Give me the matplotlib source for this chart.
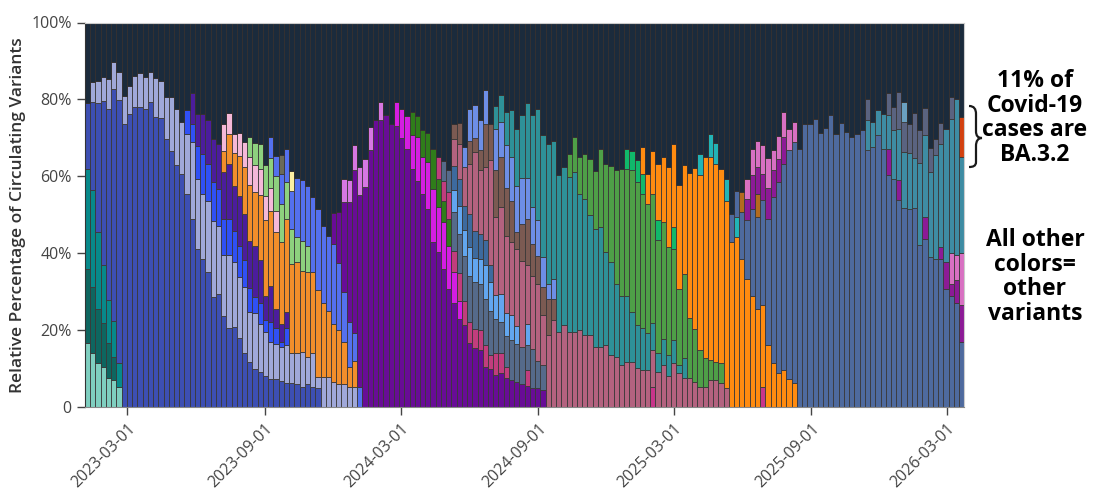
import matplotlib
matplotlib.use("Agg")
import matplotlib.pyplot as plt
import matplotlib.dates as mdates
from matplotlib.path import Path
from matplotlib.patches import PathPatch
import numpy as np
import pandas as pd

plt.rcParams["font.family"] = ["Open Sans", "DejaVu Sans"]

# ── weeks (bar centres, week ending Saturday) ──
N_WEEKS = 168
weeks = pd.date_range("2023-01-07", periods=N_WEEKS, freq="7D")
tick_dates = ["2023-03-01", "2023-09-01", "2024-03-01", "2024-09-01",
              "2025-03-01", "2025-09-01", "2026-03-01"]

# ── variant shares (% of sequences); each run = (first week index, values) ──
aqua = (0, [16.6, 14.1, 11.4, 10.3, 7.6, 7.0, 5.3])
dark_teal = (0, [19.4, 17.2, 14.2, 11.6, 9.1, 5.9])
teal = (0, [26.0, 25.1, 19.8, 15.0, 11.1, 9.5, 6.1])
royal_blue = (0, [17.0, 23.0, 33.6, 42.6, 49.7, 60.4, 68.4, 73.6, 76.1, 77.9,
                  77.9, 77.4, 79.4, 75.5, 75.2, 69.7, 66.6, 62.9, 60.5, 55.5,
                  49.0, 41.0, 38.4, 35.0, 28.7, 29.5, 23.7, 20.5, 20.9, 17.9,
                  14.0, 11.8, 10.0, 9.2, 8.1, 7.2, 7.2, 6.8, 6.2, 6.2,
                  5.9, 5.3, 5.9, 5.3, 5.0])
lavender = (1, [5.2, 5.7, 6.2, 7.7, 7.0, 7.4, 7.2, 7.5, 8.3, 9.0,
                8.3, 7.8, 10.1, 9.6, 10.8, 14.0, 14.5, 13.7, 15.4, 20.0,
                18.3, 17.1, 18.6, 19.7, 17.5, 15.8, 19.0, 16.7, 16.0, 17.3,
                12.8, 14.4, 12.4, 11.5, 9.8, 9.3, 8.9, 9.9, 7.8, 8.1,
                9.1, 7.2, 8.7, 2.7, 7.7, 7.7, 6.5, 6.0, 6.0, 5.3, 5.3])
bright_blue = (19, [6.3, 4.6, 8.6, 10.4, 9.7, 10.0, 9.6, 9.4, 9.4, 8.2,
                    8.1, 6.9, 6.3, 4.1, 5.5, 3.0, 5.1, 4.0, 1.3, 4.4])
indigo = (20, [8.1, 8.2, 10.2, 11.3, 11.4, 11.9, 12.3, 14.4, 11.7, 12.9,
               12.1, 12.2, 13.3, 11.1, 6.3, 9.3, 5.0, 4.6, 4.3])
orange = (26, [5.4, 7.8, 8.6, 10.4, 12.2, 14.6, 14.0, 16.9, 19.7, 19.7,
               19.9, 21.4, 24.1, 23.3, 23.6, 21.0, 22.1, 21.0, 22.8, 19.3,
               17.3, 15.0, 14.0, 11.0, 5.2, 6.7])
light_pink = (26, [7.1, 5.4, 5.0, 6.0, 6.3, 7.4, 7.1, 6.9, 6.3, 5.8, 5.6])
light_green = (31, [5.0, 5.8, 6.3, 8.0, 7.9, 9.0, 9.8, 9.5, 9.1, 6.7, 7.8, 6.7])
cornflower = (35, [5.5, 5.3, 7.8, 8.8, 9.8, 15.3, 15.8, 15.6, 19.5, 21.0,
                   20.0, 19.5, 21.0, 17.5, 13.0, 11.7, 7.2, 5.3])
olive = (37, [4.9])
pale_yellow = (39, [5.2])
purple = (47, [7.9, 13.3, 23.4, 31.2, 42.5, 49.8, 57.3, 66.8, 74.6, 74.6,
               75.9, 73.7, 73.1, 69.9, 67.1, 61.8, 58.8, 55.4, 51.6, 42.9,
               40.2, 35.8, 30.6, 27.1, 22.8, 21.3, 16.6, 15.3, 14.8, 10.5,
               10.0, 8.3, 8.8, 7.5, 7.0, 6.5, 6.0, 5.5, 5.0, 5.0, 4.5])
violet = (49, [5.8, 5.6, 6.5, 7.4, 7.3, 5.9, 0.0, 4.8])
magenta = (59, [6.3, 7.7, 8.6, 8.9, 11.4, 9.6, 12.2, 13.7, 11.7, 12.2,
                11.4, 8.1, 4.8])
dark_green = (62, [6.1, 5.5, 7.0, 7.5, 10.4, 7.5, 5.6, 6.9])
hot_pink_a = (108, [5.3])
hot_pink_b = (129, [5.3])
raspberry = (67, [5.5, 5.3, 6.9, 5.4, 7.3, 6.3, 5.4, 5.0, 5.2, 5.6,
                  3.5, 5.7, 5.2, 3.0, 0.0, 0.0, 0.0, 4.0])
slate = (68, [5.2, 5.8, 10.0, 10.0, 11.7, 12.1, 12.1, 12.1, 12.1, 11.5,
              9.0, 8.2, 8.0, 10.5, 10.0, 9.5, 6.5, 10.0, 7.0, 6.5])
sky = (70, [5.8, 7.4, 6.7, 7.6, 6.4, 6.5, 8.7, 7.5, 6.1, 7.3,
            6.0, 6.5, 4.5, 0.0, 5.5])
steel = (70, [6.3, 7.1, 6.3, 8.4, 7.0, 6.5, 6.5, 4.5])
mauve = (70, [6.9, 9.1, 10.2, 13.0, 20.6, 16.5, 19.1, 27.2, 20.4, 22.6,
              20.0, 19.0, 20.0, 22.5, 15.5, 19.0, 20.0, 13.0, 18.7, 22.6,
              19.6, 21.3, 19.6, 19.4, 20.0, 18.7, 18.7, 15.7, 15.7, 16.1,
              13.5, 13.1, 10.9, 11.8, 11.8, 10.1, 9.6, 9.6, 9.5, 9.2,
              10.9, 8.1, 11.5, 8.9, 7.5, 7.5, 6.6, 5.1, 5.3, 7.0,
              7.0, 6.2, 4.9])
brown = (70, [4.0, 5.3, 0.0, 6.1, 3.6, 5.2, 11.2, 9.5, 12.1, 13.0,
              12.5, 10.5, 4.4, 9.5, 11.8, 8.3, 7.4, 7.3, 9.5, 5.6])
periwinkle = (72, [5.0, 8.2, 8.5, 7.8, 8.7, 0.0, 10.8, 9.1, 11.1, 11.5,
                   12.1, 12.1, 10.8, 9.8, 9.3, 7.6, 3.9, 5.2])
dark_cyan = (78, [5.8, 6.9, 8.7, 12.2, 14.9, 16.3, 19.5, 23.8, 28.9, 31.8,
                  36.4, 35.8, 40.7, 41.0, 40.1, 41.6, 35.5, 35.5, 31.2, 30.6,
                  31.2, 24.3, 24.1, 19.0, 18.0, 17.1, 13.0, 11.2, 10.9, 9.6,
                  7.0, 4.8, 6.7, 5.4, 5.9, 2.1, 5.2])
green = (92, [6.1, 9.1, 9.6, 11.6, 14.7, 15.1, 20.2, 22.8, 25.1, 29.5,
              33.1, 32.9, 36.8, 37.1, 35.0, 33.7, 33.5, 29.4, 30.4, 28.2,
              23.8, 19.6, 22.0, 15.7, 13.6, 9.7, 7.4, 5.2, 4.8, 5.2])
emerald = (103, [5.4, 5.0, 5.8, 5.1, 0.0, 0.0, 5.2, 0.0, 0.0, 5.5])
bright_orange = (106, [7.1, 7.7, 11.3, 14.6, 16.9, 20.8, 21.8, 27.1, 28.2, 37.7,
                       42.0, 45.5, 52.4, 52.9, 51.5, 50.4, 48.7, 43.0, 44.1, 38.6,
                       33.4, 28.9, 25.4, 21.2, 16.1, 11.5, 8.9, 9.6, 7.2, 6.3])
turquoise = (117, [5.4, 0.0, 6.0, 5.4, 0.0, 5.7, 0.0, 5.2])
denim = (123, [7.3, 6.9, 12.2, 15.2, 22.7, 23.9, 27.3, 32.9, 43.2, 49.7,
               53.7, 59.6, 62.7, 67.1, 73.5, 73.6, 74.8, 71.3, 72.6, 75.9,
               71.0, 73.9, 71.6, 70.3, 71.1, 72.0, 66.8, 67.7, 70.7, 67.2,
               60.3, 59.2, 53.8, 51.8, 51.4, 51.8, 42.1, 43.6, 39.1, 38.6,
               38.4, 30.8, 28.9, 27.1, 17.0])
copper = (125, [5.2, 0.0, 0.0, 6.2])
plum_2025 = (126, [5.6, 8.7, 7.0, 6.7, 8.0, 6.9, 6.0, 7.0])
plum_2026 = (153, [6.7, 0.0, 5.2, 0.0, 0.0, 0.0, 0.0, 5.9, 0.0, 0.0,
                   3.3, 7.0, 3.2, 5.9, 9.5])
orchid_2025 = (126, [5.2, 6.9, 6.7, 7.6, 7.8, 5.2, 5.9, 6.5, 5.6, 5.0])
orchid_2026 = (165, [7.9, 6.5, 13.5])
blue_teal = (149, [7.8, 6.5, 6.5, 9.1, 8.9, 12.8, 13.4, 14.6, 14.7, 13.0,
                   21.4, 21.2, 22.1, 26.9, 26.8, 34.6, 35.0, 40.7, 24.9])
grey_blue = (149, [5.6, 0.0, 0.0, 0.0, 5.8, 6.1, 9.6, 7.8, 7.6, 11.7,
                   8.5, 7.1, 6.2, 4.3, 5.4, 0.0, 5.5])
light_steel = (156, [5.2])
ba_3_2 = (167, [10.6])

# stacking order, bottom to top
LAYERS = [
    ("#7fcfc0", [aqua]),
    ("#0e6660", [dark_teal]),
    ("#07898a", [teal]),
    ("#3d4fb3", [royal_blue]),
    ("#a0a8d9", [lavender]),
    ("#3050f5", [bright_blue]),
    ("#4b1d9c", [indigo]),
    ("#f28e2b", [orange]),
    ("#f5b8d8", [light_pink]),
    ("#8dd17e", [light_green]),
    ("#5470ee", [cornflower]),
    ("#6b6a58", [olive]),
    ("#fcefa2", [pale_yellow]),
    ("#680c96", [purple]),
    ("#d677e2", [violet]),
    ("#d41ee2", [magenta]),
    ("#2f7d1a", [dark_green]),
    ("#c8348a", [hot_pink_a, hot_pink_b]),
    ("#c13d7d", [raspberry]),
    ("#556a8a", [slate]),
    ("#62a6ef", [sky]),
    ("#3d6a9e", [steel]),
    ("#b3627f", [mauve]),
    ("#7b5a52", [brown]),
    ("#6d8ee6", [periwinkle]),
    ("#2e9198", [dark_cyan]),
    ("#4e9f47", [green]),
    ("#10b86b", [emerald]),
    ("#ff8b10", [bright_orange]),
    ("#22b4b6", [turquoise]),
    ("#4e6a9e", [denim]),
    ("#b46a1e", [copper]),
    ("#8c1a96", [plum_2025, plum_2026]),
    ("#d870c2", [orchid_2025, orchid_2026]),
    ("#3e8ca3", [blue_teal]),
    ("#5a6380", [grey_blue]),
    ("#6aa0c0", [light_steel]),
    ("#d3410f", [ba_3_2]),
]
NAVY = "#1b2b3c"
EDGE = "#3a3838"


def series(runs):
    out = np.zeros(N_WEEKS)
    for start, vals in runs:
        out[start:start + len(vals)] = vals
    return out


fig = plt.figure(figsize=(11.02, 4.96), dpi=100)
ax = fig.add_axes([85 / 1102, 89 / 496, 879.3 / 1102, 384.5 / 496])

x = mdates.date2num(weeks)
bottom = np.zeros(N_WEEKS)
for color, runs in LAYERS:
    h = series(runs)
    m = h > 0
    ax.bar(x[m], h[m], width=7, bottom=bottom[m], color=color,
           edgecolor=EDGE, linewidth=0.6)
    bottom += h

# remaining share drawn in navy up to 100%
ax.bar(x, 100 - bottom, width=7, bottom=bottom, color=NAVY,
       edgecolor="#35302f", linewidth=0.6)

ax.set_xlim(x[0] - 3.5, x[-1] + 3.5)
ax.set_ylim(0, 100)
ax.set_yticks([0, 20, 40, 60, 80, 100])
ax.set_yticklabels(["0", "20%", "40%", "60%", "80%", "100%"])
tx = mdates.date2num(pd.to_datetime(tick_dates))
ax.set_xticks(tx)
ax.set_xticklabels(tick_dates, rotation=45, ha="right", va="top",
                   rotation_mode="anchor")
ax.tick_params(axis="both", labelsize=11.5, colors="#444444", length=6,
               width=1)
ax.tick_params(axis="x", pad=4)
ax.set_ylabel("Relative Percentage of Circulating Variants", fontsize=12.5,
              fontweight="semibold", color="#333333", labelpad=4)

ax.spines["left"].set_color("#333333")
ax.spines["bottom"].set_color("#888888")
ax.spines["top"].set_color("#cccccc")
ax.spines["right"].set_color("#cccccc")

# annotations on the right
fig.text(1035 / 1102, 1 - 118 / 496, "11% of\nCovid-19\ncases are\nBA.3.2",
         ha="center", va="center", fontsize=16.5, fontweight="bold",
         linespacing=1.05, color="black")
fig.text(1035 / 1102, 1 - 277 / 496, "All other\ncolors=\nother\nvariants",
         ha="center", va="center", fontsize=16.5, fontweight="bold",
         linespacing=1.05, color="black")

# hand-drawn style curly brace
pts = [(969, 106), (974, 106), (976, 109), (976, 114),
       (976, 131),
       (976, 136), (978, 138), (982, 138),
       (978, 138), (976, 141), (976, 146),
       (976, 162),
       (976, 166), (973, 167), (969, 167)]
codes = [Path.MOVETO, Path.CURVE4, Path.CURVE4, Path.CURVE4,
         Path.LINETO,
         Path.CURVE4, Path.CURVE4, Path.CURVE4,
         Path.CURVE4, Path.CURVE4, Path.CURVE4,
         Path.LINETO,
         Path.CURVE4, Path.CURVE4, Path.CURVE4]
verts = [(px / 1102, 1 - py / 496) for px, py in pts]
fig.add_artist(PathPatch(Path(verts, codes), transform=fig.transFigure,
                         facecolor="none", edgecolor="#1a1a1a", linewidth=1.6))

fig.savefig("out.png", dpi=100)
